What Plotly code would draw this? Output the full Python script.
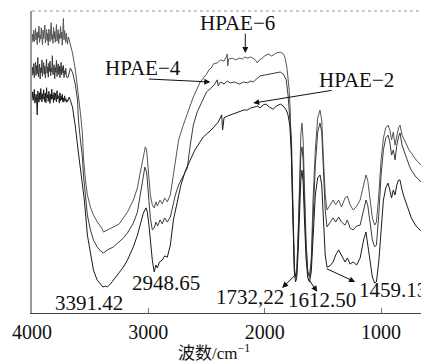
import plotly.graph_objects as go

# ---------------- data (wavenumber cm-1, transmittance a.u.) ----------------
wn_noise5 = [4000 - 5 * i for i in range(61)]  # 4000 ... 3700, noisy plateau grid
wn_tail = [1645, 1630, 1615, 1600, 1585, 1565, 1545, 1525, 1510, 1495, 1480, 1465, 1440, 1412,
           1390, 1365, 1340, 1310, 1290, 1266, 1240, 1210, 1180, 1150, 1130, 1115, 1095, 1075,
           1055, 1040, 1020, 1000, 980, 960, 940, 925, 910, 895, 880, 865, 850, 837, 820, 800,
           780, 760, 740, 720, 700, 680, 660]

wn_hpae6 = wn_noise5 + [3695, 3687,
    3670, 3652, 3627, 3601, 3584, 3567, 3558, 3541, 3524, 3498, 3472, 3438, 3400, 3386,
    3350, 3300, 3250, 3215, 3180, 3129, 3094, 3069, 3043, 3026, 3015, 3000,
    2983, 2966, 2950, 2935, 2923, 2900, 2880, 2860, 2837, 2811,
    2785, 2768, 2740, 2700, 2665, 2614, 2554, 2500, 2480, 2460, 2440, 2408,
    2380, 2350, 2330, 2322, 2318, 2310, 2280, 2250, 2220, 2190, 2170, 2150, 2120, 2099, 2080,
    2064, 2045, 2020, 2000,
    1970, 1940, 1900, 1867, 1840, 1824, 1807, 1790, 1781, 1772, 1764, 1755, 1745, 1735, 1725,
    1712, 1700, 1690, 1680, 1670, 1660] + wn_tail
t_hpae6 = [89.5, 92.3, 90.1, 93.6, 89.8, 91.9, 94.2, 90.4, 92.8, 88.9,
    93.1, 91.2, 95.0, 89.6, 92.0, 90.7, 94.4, 91.3, 88.8, 93.7,
    90.9, 92.5, 95.3, 89.4, 91.8, 93.9, 90.2, 92.6, 88.6, 94.0,
    91.5, 89.9, 93.4, 96.1, 90.6, 92.2, 89.3, 94.6, 91.0, 93.2,
    89.7, 92.9, 95.5, 90.0, 91.7, 93.8, 89.2, 92.4, 90.8, 94.9,
    91.1, 93.0, 88.7, 92.1, 97.5, 90.5, 93.5, 91.4, 89.6, 92.7,
    90.3,
    89.0, 91.4,
    88.7, 86.1, 80.5, 72.8, 66.2, 59.6, 51.7, 44.0, 39.1, 35.1, 32.4, 30.1, 28.1, 26.8,
    27.5, 28.5, 29.5, 31.5, 33.4, 37.4, 41.4, 46.7, 52.3, 55.0, 54.0, 47.3,
    39.1, 35.8, 34.8, 36.8, 35.4, 37.4, 36.1, 38.1, 36.8, 39.1,
    45.7, 50.7, 57.3, 62.2, 66.2, 71.5, 76.5, 79.1, 80.5, 81.1, 82.5, 82.8,
    83.8, 83.4, 84.8, 85.8, 81.8, 84.1, 84.4, 83.8, 84.4, 84.1, 84.8, 84.4, 84.8, 84.4, 83.8,
    82.8, 83.8, 84.4, 85.1,
    85.8, 85.1, 86.1, 86.4, 85.8, 84.4, 80.5, 73.8, 67.2, 54.0, 37.4, 20.9, 13.6, 11.6, 12.6,
    27.5, 47.3, 58.9, 62.9, 57.3, 44.0,
    24.2, 13.6, 11.6, 17.5, 37.4, 54.0, 64.6, 67.2, 63.9, 50.7, 39.1, 34.1, 35.8, 37.4,
    35.8, 37.4, 35.1, 38.1, 38.7, 35.8, 34.1, 35.4, 37.4, 43.0, 45.7, 44.0, 37.4, 31.5,
    29.1, 30.1, 39.1, 50.7,
    57.9, 61.3, 62.2, 60.6, 57.3, 59.9, 55.6, 58.9, 61.3, 62.2, 58.9, 57.3, 55.6, 54.0,
    53.0, 51.7, 50.7, 50.0, 49.0]

wn_hpae4 = wn_noise5 + [3690,
    3670, 3650, 3627, 3609, 3601, 3584, 3567, 3558, 3541, 3524, 3498, 3472, 3440, 3410, 3386,
    3350, 3300, 3250, 3215, 3180, 3129, 3094, 3069, 3043, 3030, 3015, 3000,
    2983, 2966, 2950, 2935, 2920, 2900, 2880, 2860, 2837, 2811,
    2790, 2768, 2740, 2700, 2665, 2640, 2614, 2580, 2554, 2500, 2460, 2430, 2408, 2400,
    2380, 2350, 2322, 2296, 2260, 2220, 2180, 2150, 2120, 2099, 2070, 2039, 2000, 1960, 1927,
    1890, 1867, 1840, 1815, 1800, 1785, 1770, 1762, 1752, 1745, 1735, 1725, 1712, 1700, 1690,
    1680, 1670, 1660] + wn_tail
t_hpae4 = [78.5, 81.4, 79.0, 82.6, 77.9, 80.8, 83.1, 78.7, 81.9, 79.3,
    84.6, 78.2, 80.9, 82.4, 77.5, 81.2, 79.6, 83.8, 78.4, 80.5,
    82.9, 79.1, 81.7, 77.8, 80.3, 84.1, 79.4, 81.5, 78.1, 82.7,
    80.0, 83.4, 78.6, 81.1, 79.8, 85.2, 78.9, 80.6, 82.2, 77.6,
    81.3, 79.7, 83.6, 78.3, 80.7, 82.5, 79.0, 81.8, 77.9, 80.4,
    83.0, 78.8, 81.6, 79.5, 82.0, 78.0, 80.2, 79.1, 81.0, 78.4,
    78.0,
    78.0,
    81.1, 79.5, 75.5, 70.5, 63.9, 57.3, 51.7, 45.7, 39.1, 32.4, 27.5, 24.2, 21.9, 20.5, 19.9,
    20.9, 21.9, 23.5, 24.8, 26.5, 29.8, 33.4, 39.1, 45.7, 48.3, 46.7, 39.1,
    31.5, 27.5, 28.1, 30.1, 28.8, 30.8, 29.5, 31.5, 30.1, 31.8,
    35.8, 39.1, 42.4, 45.4, 48.0, 55.6, 62.2, 66.6, 68.9, 73.2, 74.5, 75.8, 77.2, 75.2,
    76.5, 75.8, 76.8, 76.2, 76.5, 75.8, 76.5, 76.2, 76.8, 76.5, 77.5, 78.5, 78.8, 79.1, 79.5,
    79.8, 79.8, 79.1, 77.2, 72.2, 65.6, 57.3, 44.0, 24.2, 14.9, 12.3, 13.6, 25.8, 42.4, 52.3,
    55.0, 50.7, 39.1,
    22.5, 13.6, 12.3, 16.9, 32.4, 49.0, 59.9, 62.9, 59.9, 45.7, 34.1, 28.5, 30.1, 31.5,
    30.1, 31.8, 30.1, 29.1, 30.8, 28.1, 27.5, 28.8, 29.1, 34.1, 37.4, 35.8, 29.1, 24.2,
    21.9, 22.5, 32.4, 45.7,
    54.0, 57.9, 58.9, 56.6, 52.3, 54.0, 50.7, 55.6, 58.3, 59.6, 55.6, 53.3, 50.7, 49.0,
    47.3, 46.0, 45.0, 44.4, 43.4]

wn_hpae2 = wn_noise5 + [3695,
    3680, 3652, 3627, 3601, 3575, 3550, 3524, 3498, 3472, 3440, 3412, 3390, 3370, 3352, 3320,
    3300, 3260, 3215, 3180, 3129, 3094, 3069, 3043, 3020, 3009, 2995,
    2983, 2966, 2950, 2935, 2923, 2905, 2880, 2860, 2837, 2811, 2785, 2751, 2720, 2680, 2640,
    2600, 2528, 2460, 2400, 2370, 2362, 2350, 2322, 2296, 2260, 2220, 2180, 2150, 2120, 2090,
    2060, 2040, 2013, 1990, 1960, 1927, 1900, 1867, 1840, 1815, 1800, 1785, 1772, 1762, 1752,
    1745, 1735, 1725, 1712, 1700, 1690, 1680, 1670, 1660] + wn_tail
t_hpae2 = [71.0, 73.2, 70.4, 72.1, 74.0, 69.5, 71.8, 72.4, 70.2, 65.6,
    73.5, 71.1, 69.8, 72.9, 70.6, 74.3, 71.5, 69.9, 72.6, 70.8,
    73.9, 71.3, 70.0, 72.8, 69.6, 74.6, 71.2, 72.3, 70.1, 73.4,
    71.7, 69.4, 72.5, 70.7, 74.1, 71.0, 72.2, 69.7, 73.0, 70.5,
    72.8, 71.4, 69.9, 73.6, 70.9, 72.0, 71.6, 69.5, 72.9, 70.3,
    71.8, 70.6, 72.4, 69.8, 71.2, 70.0, 71.9, 70.4, 71.0, 69.8,
    70.6,
    70.0,
    71.5, 68.2, 61.6, 53.0, 45.7, 37.4, 25.8, 19.2, 14.2, 10.9, 9.6, 8.6, 8.9, 8.6, 9.9,
    10.9, 12.6, 15.2, 17.5, 21.9, 25.8, 29.1, 33.1, 34.8, 33.4, 29.1,
    24.2, 17.5, 13.6, 15.9, 14.9, 16.9, 17.5, 18.9, 18.5, 22.5, 30.8, 37.4, 42.4, 47.3, 50.7,
    54.0, 58.3, 60.6, 63.2, 65.6, 60.6, 64.6, 65.2, 65.6, 66.2, 66.6, 67.2, 67.2, 67.9, 68.2,
    68.5, 67.9, 68.9, 69.2, 68.2, 67.5, 68.5, 69.2, 68.5, 67.2, 65.6, 62.2, 54.0, 37.4, 20.9,
    13.6, 10.3, 11.6, 20.9, 35.8, 44.0, 47.3, 43.4, 32.4,
    18.2, 11.6, 10.3, 13.6, 25.8, 39.1, 44.7, 45.7, 42.4, 30.8, 19.2, 15.2, 15.6, 16.9,
    19.2, 20.9, 19.2, 16.9, 18.2, 16.2, 16.9, 15.9, 18.2, 24.2, 26.8, 22.5, 16.9, 11.9,
    9.9, 10.3, 16.9, 29.1,
    37.4, 41.4, 43.0, 40.7, 38.1, 40.7, 39.1, 42.4, 44.0, 44.0, 40.7, 38.1, 35.8, 33.4,
    31.5, 30.1, 28.8, 28.1, 27.2]

series_names = ["HPAE-6", "HPAE-4", "HPAE-2"]
tick_values = [4000, 3000, 2000, 1000]
peak_labels = ["3391.42", "2948.65", "1732,22", "1612.50", "1459.13"]

# ---------------- figure ----------------
SERIF = "Liberation Serif, Times New Roman, serif"
CJK = "Liberation Serif, Noto Sans CJK SC, serif"

fig = go.Figure()
for name, wn, t, col in [
    ("HPAE-6", wn_hpae6, t_hpae6, "#555555"),
    ("HPAE-4", wn_hpae4, t_hpae4, "#3a3a3a"),
    ("HPAE-2", wn_hpae2, t_hpae2, "#1a1a1a"),
]:
    fig.add_trace(go.Scatter(x=wn, y=t, mode="lines", name=name, showlegend=False,
                             line=dict(color=col, width=1)))

fig.update_layout(
    width=421, height=363,
    margin=dict(l=32, r=0, t=11, b=50),
    plot_bgcolor="white", paper_bgcolor="white",
    xaxis=dict(range=[4000, 657], tickvals=tick_values,
               ticktext=[str(v) for v in tick_values],
               ticks="inside", ticklen=5, tickcolor="#777", tickwidth=1,
               showline=True, linecolor="#444", linewidth=1,
               showgrid=False, zeroline=False, ticklabelstandoff=1,
               tickfont=dict(family=SERIF, size=20, color="#111")),
    yaxis=dict(range=[0, 100], showticklabels=False, ticks="", showgrid=False,
               zeroline=False, showline=True, linecolor="#999", linewidth=1.5),
)

# dotted top frame
fig.add_shape(type="line", xref="paper", yref="paper", x0=0, x1=1, y0=1, y1=1,
              line=dict(color="#999", width=1, dash="dot"))

# axis title
fig.add_annotation(text="波数/cm<sup>−1</sup>", xref="paper", yref="paper",
                   x=0.468, y=-0.13, xanchor="center", yanchor="middle",
                   showarrow=False, font=dict(family=CJK, size=17, color="#111"))

# series labels
label_font = dict(family=SERIF, size=21, color="#111")
fig.add_annotation(text="HPAE−6", x=2236, y=96.0, showarrow=False, font=label_font)
fig.add_annotation(text="HPAE−4", x=3043, y=81.1, showarrow=False, font=label_font)
fig.add_annotation(text="HPAE−2", x=1214, y=77.2, showarrow=False, font=label_font)

arrows = [
    (2167, 86.1, 2167, 93.0),   # HPAE-6
    (2468, 76.5, 3009, 77.5),   # HPAE-4
    (2099, 69.5, 1412, 73.8),   # HPAE-2
    (1850, 8.3, 1721, 13.2),    # 1732
    (1549, 7.0, 1635, 11.9),    # 1612
    (1223, 10.3, 1481, 14.9),   # 1459
]
for x, y, ax, ay in arrows:
    fig.add_annotation(text="", x=x, y=y, ax=ax, ay=ay, xref="x", yref="y",
                       axref="x", ayref="y", showarrow=True, arrowhead=2,
                       arrowsize=1.2, arrowwidth=1, arrowcolor="#111")

# peak labels
peak_font = dict(family=SERIF, size=21, color="#111")
peak_pos = [(3506, 3.3, "center"), (2845, 9.9, "center"), (2124, 5.3, "center"),
            (1506, 4.3, "center"), (1206, 7.6, "left")]
for lab, (x, y, anc) in zip(peak_labels, peak_pos):
    fig.add_annotation(text=lab, x=x, y=y, showarrow=False, xanchor=anc,
                       yanchor="middle", font=peak_font)

fig.write_html("out.html")
